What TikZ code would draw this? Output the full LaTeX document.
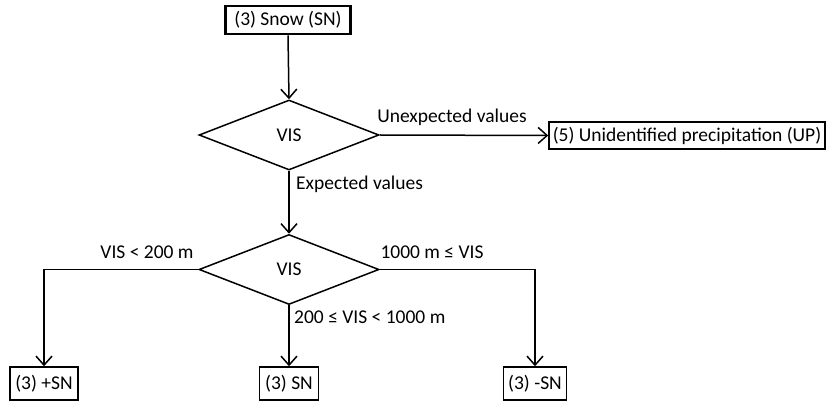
\documentclass[tikz,border=0pt]{standalone}
\usepackage{fontspec}
\setmainfont{Carlito}
\usetikzlibrary{shapes.geometric,arrows.meta}
\begin{document}
\begin{tikzpicture}[x=1pt,y=-1pt,
  every node/.style={font=\fontsize{19.5}{23}\selectfont, inner sep=0pt},
  box/.style={draw, line width=1.5pt, minimum height=28pt},
  topbox/.style={box, line width=2.6pt},
  dec/.style={draw, diamond, line width=1.5pt, minimum width=180pt, minimum height=70pt},
  conn/.style={line width=1.5pt, -{Straight Barb[length=9pt,width=16pt,line width=1.5pt]}},
  lbl/.style={}]
\useasboundingbox (0,0) rectangle (830,403);
\node[topbox, minimum width=125pt, minimum height=28pt] (snow) at (288,20) {(3) Snow (SN)};
\node[dec] (d1) at (289,135) {VIS};
\node[box, minimum width=276pt, minimum height=27pt] (up) at (687,135.5) {(5) Unidentified precipitation (UP)};
\node[dec] (d2) at (289,269.5) {VIS};
\node[box, minimum width=68pt, minimum height=33pt] (plus) at (44,383.5) {(3) +SN};
\node[box, minimum width=59pt, minimum height=33pt] (mid) at (289,383.5) {(3) SN};
\node[box, minimum width=63pt, minimum height=33pt] (minus) at (535,383.5) {(3) -SN};
\draw[conn] (snow.south) -- (d1.north);
\draw[conn] (d1.east) -- (up.west);
\node[lbl] (uv) at (452,117) {Unexpected values};
\draw[conn] (d1.south) -- (d2.north);
\node[lbl, anchor=west] (ev) at (296,184) {Expected values};
\draw[conn] (d2.west) -| (plus.north);
\draw[conn] (d2.east) -| (minus.north);
\draw[conn] (d2.south) -- (mid.north);
\node[lbl] (l1) at (147,252) {VIS < 200 m};
\node[lbl] (l2) at (432,252) {1000 m ≤ VIS};
\node[lbl, anchor=west] (l3) at (294,317) {200 ≤ VIS < 1000 m};
\end{tikzpicture}
\end{document}
